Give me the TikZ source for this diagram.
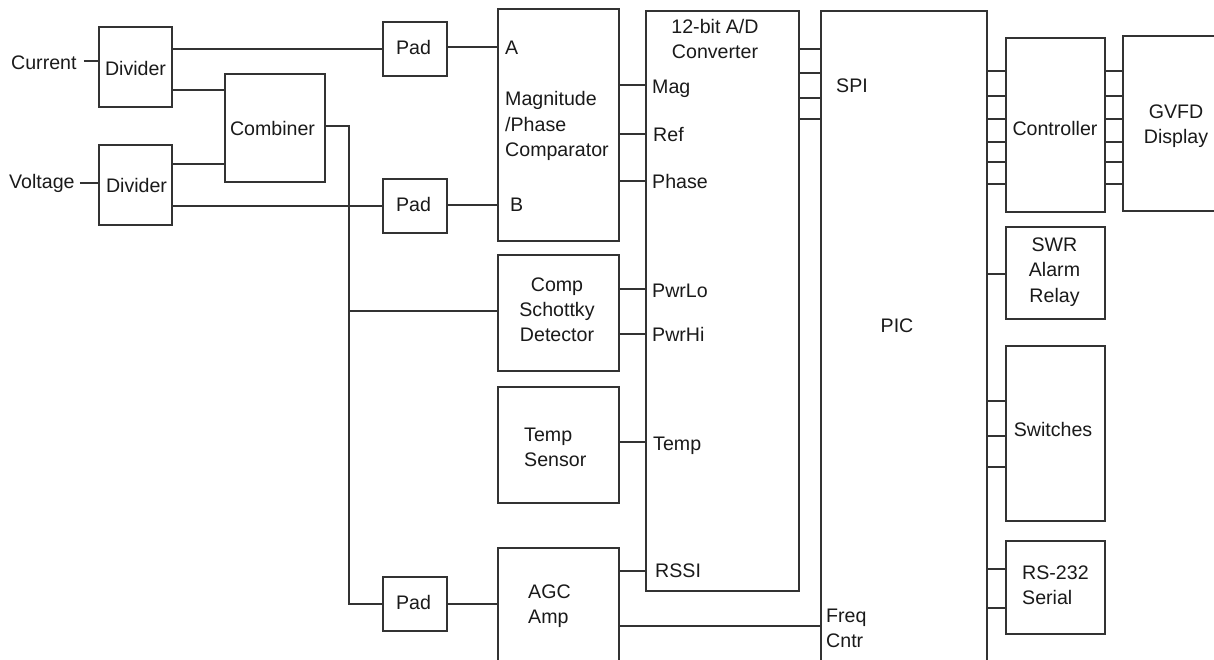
\documentclass[tikz,border=0pt]{standalone}
\usepackage{fontspec}
\setmainfont{Liberation Sans}
\begin{document}
\begin{tikzpicture}[x=1pt,y=-1pt,
  blk/.style={draw=linec, line width=2pt, inner sep=0pt, rectangle},
  lbl/.style={inner sep=0pt, font=\fontsize{19.6}{25.2}\selectfont, text=txtc},
  wire/.style={draw=linec, line width=2pt}]
\definecolor{linec}{HTML}{333333}
\definecolor{txtc}{HTML}{1A1A1A}
\useasboundingbox (0,0) rectangle (1214,660);
\clip (0,0) rectangle (1214,660);
\fill[white] (0,0) rectangle (1214,660);

% boxes
\node[blk, minimum width=73pt, minimum height=80pt] (div1) at (135.5,67) {};
\node[blk, minimum width=73pt, minimum height=80pt] (div2) at (135.5,185) {};
\node[blk, minimum width=100pt, minimum height=108pt] (comb) at (275,128) {};
\node[blk, minimum width=64pt, minimum height=54pt] (pad1) at (415,49) {};
\node[blk, minimum width=64pt, minimum height=54pt] (pad2) at (415,206) {};
\node[blk, minimum width=64pt, minimum height=54pt] (pad3) at (415,604) {};
\node[blk, minimum width=121pt, minimum height=232pt] (mpc) at (558.5,125) {};
\node[blk, minimum width=121pt, minimum height=116pt] (csd) at (558.5,313) {};
\node[blk, minimum width=121pt, minimum height=116pt] (tmp) at (558.5,445) {};
\node[blk, minimum width=121pt, minimum height=152pt] (agc) at (558.5,624) {};
\node[blk, minimum width=153pt, minimum height=580pt] (adc) at (722.5,301) {};
\node[blk, minimum width=166pt, minimum height=689pt] (pic) at (904,355.5) {};
\node[blk, minimum width=99pt, minimum height=174pt] (ctrl) at (1055.5,125) {};
\node[blk, minimum width=137pt, minimum height=175pt] (gvfd) at (1191.5,123.5) {};
\node[blk, minimum width=99pt, minimum height=92pt] (swr) at (1055.5,273) {};
\node[blk, minimum width=99pt, minimum height=175pt] (sw) at (1055.5,433.5) {};
\node[blk, minimum width=99pt, minimum height=93pt] (rs) at (1055.5,587.5) {};

% texts
\node[lbl, anchor=mid west] (cur) at (11,67) {Current};
\node[lbl, anchor=mid west] (volt) at (9,185.5) {Voltage};
\node[lbl] (tdiv1) at (135.5,68.5) {Divider};
\node[lbl] (tdiv2) at (136.5,185.5) {Divider};
\node[lbl] (tcomb) at (272.5,128) {Combiner};
\node[lbl] (tpad1) at (413.5,47.5) {Pad};
\node[lbl] (tpad2) at (413.5,204.5) {Pad};
\node[lbl] (tpad3) at (413.5,602.5) {Pad};
\node[lbl, anchor=mid west] (ta) at (505,52) {A};
\node[lbl, anchor=mid west] (tb) at (510,208.5) {B};
\node[lbl, anchor=west, align=left] (tmpc) at (505,126) {Magnitude\\/Phase\\Comparator};
\node[lbl, align=center] (tadc) at (715,39) {12-bit A/D\\Converter};
\node[lbl, anchor=mid west] (tmag) at (652,91) {Mag};
\node[lbl, anchor=mid west] (tref) at (653,139) {Ref};
\node[lbl, anchor=mid west] (tph) at (652,186) {Phase};
\node[lbl, align=center] (tcsd) at (557,310) {Comp\\Schottky\\Detector};
\node[lbl, anchor=mid west] (tplo) at (652,295) {PwrLo};
\node[lbl, anchor=mid west] (tphi) at (652,339) {PwrHi};
\node[lbl, anchor=west, align=left] (ttmp) at (524,447.5) {Temp\\Sensor};
\node[lbl, anchor=mid west] (ttemp) at (653,448) {Temp};
\node[lbl, anchor=west, align=left] (tagc) at (528,606) {AGC\\Amp};
\node[lbl, anchor=mid west] (trssi) at (655,574.5) {RSSI};
\node[lbl, anchor=mid west] (tspi) at (836,90) {SPI};
\node[lbl] (tpic) at (897,326) {PIC};
\node[lbl, anchor=west, align=left] (tfreq) at (826,628) {Freq\\Cntr};
\node[lbl] (tctrl) at (1055,128) {Controller};
\node[lbl, align=center] (tgvfd) at (1176,126) {GVFD\\Display};
\node[lbl, align=center] (tswr) at (1054.5,272) {SWR\\Alarm\\Relay};
\node[lbl] (tsw) at (1053,429.5) {Switches};
\node[lbl, anchor=west, align=left] (trs) at (1022,585) {RS-232\\Serial};

% connectors
\draw[wire] ([xshift=7pt]cur.east |- 0,61) -- (div1.west |- 0,61);
\draw[wire] ([xshift=5pt]volt.east |- 0,183) -- (div2.west |- 0,183);
\draw[wire] (div1.east |- 0,49) -- (pad1.west |- 0,49);
\draw[wire] (div1.east |- 0,90) -- (comb.west |- 0,90);
\draw[wire] (div2.east |- 0,164) -- (comb.west |- 0,164);
\draw[wire] (div2.east |- 0,206) -- (pad2.west |- 0,206);
\coordinate (bus) at (349,126);
\draw[wire] (comb.east |- bus) -- (bus) |- (pad3.west);
\draw[wire] (bus |- 0,311) -- (csd.west |- 0,311);
\draw[wire] (pad1.east |- 0,47) -- (mpc.west |- 0,47);
\draw[wire] (pad2.east |- 0,205) -- (mpc.west |- 0,205);
\draw[wire] (pad3.east) -- (pad3.east -| agc.west);
\foreach \yy in {85,134,181} \draw[wire] (mpc.east |- 0,\yy) -- (adc.west |- 0,\yy);
\foreach \yy in {289,334} \draw[wire] (csd.east |- 0,\yy) -- (adc.west |- 0,\yy);
\draw[wire] (tmp.east |- 0,442) -- (adc.west |- 0,442);
\draw[wire] (agc.east |- 0,571) -- (adc.west |- 0,571);
\draw[wire] (agc.east |- 0,626) -- (pic.west |- 0,626);
\foreach \yy in {49,73,98,119} \draw[wire] (adc.east |- 0,\yy) -- (pic.west |- 0,\yy);
\foreach \yy in {71,96,119,142,162,184} {
  \draw[wire] (pic.east |- 0,\yy) -- (ctrl.west |- 0,\yy);
  \draw[wire] (ctrl.east |- 0,\yy) -- (gvfd.west |- 0,\yy);
}
\draw[wire] (pic.east |- 0,274) -- (swr.west |- 0,274);
\foreach \yy in {401,436,467} \draw[wire] (pic.east |- 0,\yy) -- (sw.west |- 0,\yy);
\foreach \yy in {569,608} \draw[wire] (pic.east |- 0,\yy) -- (rs.west |- 0,\yy);
\end{tikzpicture}
\end{document}
